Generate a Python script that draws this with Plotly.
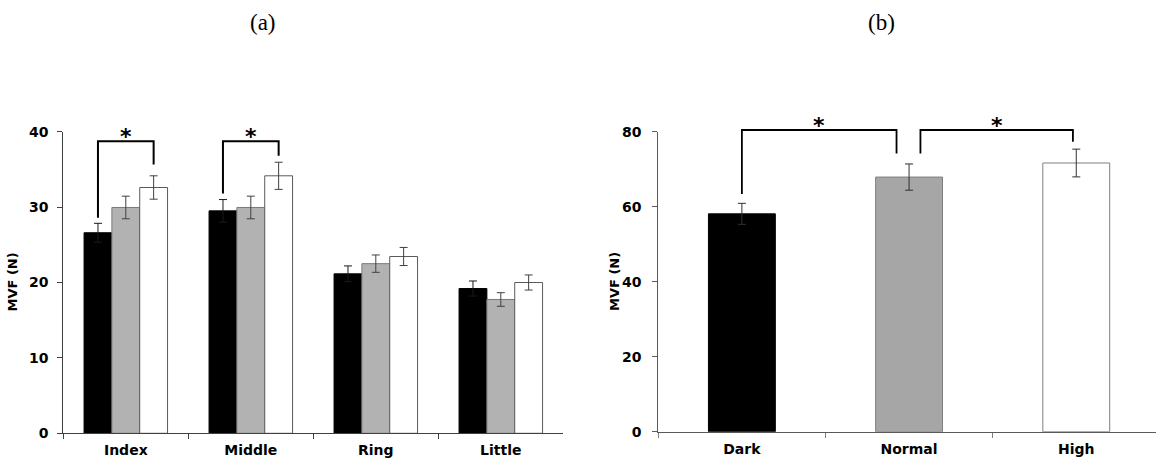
import plotly.graph_objects as go

# ---- data: panel (a) ----
fingers = ["Index", "Middle", "Ring", "Little"]
dark_vals = [26.6, 29.5, 21.15, 19.2]
dark_err = [1.25, 1.5, 1.05, 1.0]
normal_vals = [29.95, 29.95, 22.5, 17.75]
normal_err = [1.5, 1.5, 1.15, 0.9]
high_vals = [32.6, 34.15, 23.45, 20.0]
high_err = [1.55, 1.8, 1.2, 1.0]

# ---- data: panel (b) ----
conditions = ["Dark", "Normal", "High"]
cond_vals = [58.1, 67.9, 71.65]
cond_err = [2.8, 3.5, 3.7]

# significance brackets: (x_left, x_right, y_left_end, y_right_end, y_top)
brackets_a = [(-0.2227, 0.2227, 28.6, 35.65, 38.75),
              (0.7773, 1.2227, 31.8, 36.8, 38.75)]
brackets_b = [(0.0, 0.925, 63.4, 74.2, 80.45),
              (1.068, 1.98, 74.2, 77.3, 80.45)]

W, H = 1156, 463
YMAX_A, YMAX_B = 40, 80

fig = go.Figure()

def add_group(vals, err, fill, outline, errcolor):
    fig.add_trace(go.Bar(
        x=fingers, y=vals, xaxis="x", yaxis="y",
        marker=dict(color=fill, line=dict(color=outline, width=1)),
        error_y=dict(type="data", array=err, color=errcolor, thickness=1, width=4),
        showlegend=False))

add_group(dark_vals, dark_err, "#000000", "#000000", "#1a1a1a")
add_group(normal_vals, normal_err, "#b2b2b2", "#7a7a7a", "#404040")
add_group(high_vals, high_err, "#ffffff", "#5a5a5a", "#404040")

fig.add_trace(go.Bar(
    x=conditions, y=cond_vals, xaxis="x2", yaxis="y2", width=0.4,
    marker=dict(color=["#000000", "#a6a6a6", "#ffffff"],
                line=dict(color=["#000000", "#7f7f7f", "#7f7f7f"], width=1)),
    error_y=dict(type="data", array=cond_err, color="#303030", thickness=1, width=4),
    showlegend=False))

shapes = []
annotations = []

def add_brackets(brs, xref, yref_dom, ymax, lw):
    for (xl, xr, yl, yr, yt) in brs:
        path = "M {} {} L {} {} L {} {} L {} {}".format(
            xl, yl / ymax, xl, yt / ymax, xr, yt / ymax, xr, yr / ymax)
        shapes.append(dict(type="path", path=path, xref=xref, yref=yref_dom,
                           line=dict(color="#000000", width=lw)))
        annotations.append(dict(x=(xl + xr) / 2, y=yt / ymax, xref=xref, yref=yref_dom,
                                text="*", showarrow=False, yanchor="bottom",
                                yshift=-10,
                                font=dict(family="DejaVu Sans", size=22, color="#000000",
                                          weight="bold")))

add_brackets(brackets_a, "x", "y domain", YMAX_A, 2)
add_brackets(brackets_b, "x2", "y2 domain", YMAX_B, 1.8)

lab_font = dict(family="Liberation Serif", size=23, color="#000000")
annotations.append(dict(text="(a)", x=263 / W, y=1 - 23 / H, xref="paper", yref="paper",
                        xanchor="center", yanchor="middle", showarrow=False, font=lab_font))
annotations.append(dict(text="(b)", x=881 / W, y=1 - 23 / H, xref="paper", yref="paper",
                        xanchor="center", yanchor="middle", showarrow=False, font=lab_font))

title_font = dict(family="DejaVu Sans", size=13, color="#000000", weight="bold")
annotations.append(dict(text="MVF (N)", x=12 / W, y=1 - 282.5 / H, xref="paper", yref="paper",
                        xanchor="center", yanchor="middle",
                        textangle=-90, showarrow=False, font=title_font))
annotations.append(dict(text="MVF (N)", x=614 / W, y=1 - 282 / H, xref="paper", yref="paper",
                        xanchor="center", yanchor="middle",
                        textangle=-90, showarrow=False, font=title_font))

tick_font = dict(family="DejaVu Sans", size=14, color="#000000", weight="bold")
cat_font = dict(family="DejaVu Sans", size=14, color="#000000", weight="bold")

axis_common = dict(showline=True, linewidth=1, showgrid=False, zeroline=False,
                   ticks="outside", ticklen=5, tickwidth=1, automargin=False)

fig.update_layout(
    width=W, height=H, margin=dict(l=0, r=0, t=0, b=0, autoexpand=False),
    paper_bgcolor="#ffffff", plot_bgcolor="#ffffff",
    barmode="group", bargap=0.332, bargroupgap=0,
    xaxis=dict(domain=[63.3 / W, 563.3 / W], anchor="y", type="category",
               range=[-0.5, 3.5], tickson="boundaries", linecolor="#404040",
               tickcolor="#404040", tickfont=cat_font, ticklabelstandoff=4,
               **axis_common),
    yaxis=dict(domain=[1 - 433.3 / H, 1 - 131.7 / H], anchor="x", range=[0, YMAX_A],
               dtick=10, linecolor="#404040", tickcolor="#404040", tickfont=tick_font,
               ticklabelstandoff=6, **axis_common),
    xaxis2=dict(domain=[658.3 / W, 1.0], anchor="y2", type="category",
                range=[-0.5, 2.477], tickson="boundaries", linecolor="#5a5a5a",
                tickcolor="#7f7f7f", tickfont=cat_font, ticklabelstandoff=4,
                **axis_common),
    yaxis2=dict(domain=[1 - 431.7 / H, 1 - 131.7 / H], anchor="x2", range=[0, YMAX_B],
                dtick=20, linecolor="#5a5a5a", tickcolor="#5a5a5a", tickfont=tick_font,
                ticklabelstandoff=8, **axis_common),
    shapes=shapes, annotations=annotations,
)

fig.write_html("out.html")
